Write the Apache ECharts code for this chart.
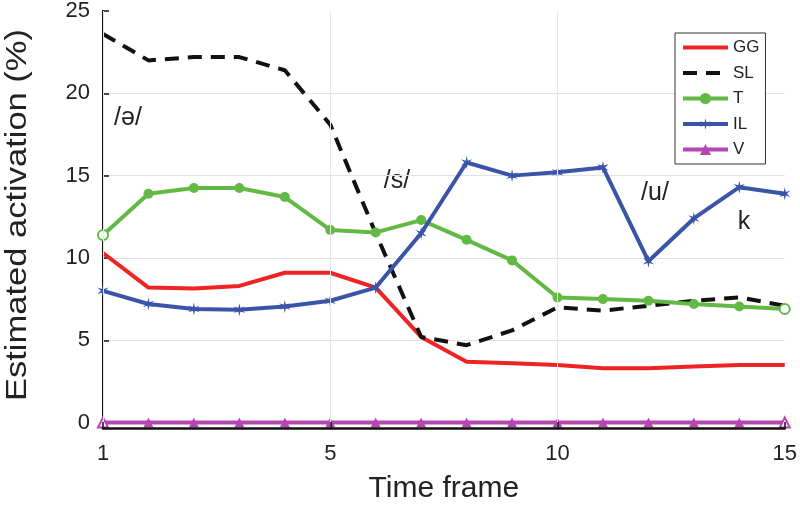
<!DOCTYPE html>
<html>
<head>
<meta charset="utf-8">
<script src="https://cdn.jsdelivr.net/npm/echarts@6/dist/echarts.min.js"></script>
<style>
html, body { margin: 0; padding: 0; background: #fff; }
#chart { width: 800px; height: 513px; }
</style>
</head>
<body>
<div id="chart"></div>
<script>
// time frames (axis position), first tick is labelled "1"
var frames = [0, 1, 2, 3, 4, 5, 6, 7, 8, 9, 10, 11, 12, 13, 14, 15];
var xTickValues = [0, 5, 10, 15];
var xTickLabels = ['1', '5', '10', '15'];

// estimated activation (%)
var ggData = [10.3, 8.2, 8.15, 8.3, 9.1, 9.1, 8.2, 5.2, 3.7, 3.6, 3.5, 3.3, 3.3, 3.4, 3.5, 3.5];
var slData = [23.6, 22.0, 22.2, 22.2, 21.4, 18.1, 11.5, 5.2, 4.7, 5.6, 7.0, 6.8, 7.1, 7.4, 7.6, 7.1];
var tData  = [11.4, 13.9, 14.25, 14.25, 13.7, 11.7, 11.55, 12.3, 11.1, 9.85, 7.6, 7.5, 7.4, 7.2, 7.05, 6.9];
var ilData = [8.0, 7.2, 6.9, 6.85, 7.05, 7.4, 8.2, 11.5, 15.8, 15.0, 15.2, 15.5, 9.8, 12.4, 14.3, 13.9];
var vData  = [0, 0, 0, 0, 0, 0, 0, 0, 0, 0, 0, 0, 0, 0, 0, 0];

var FONT = '"Liberation Sans", Arial, Helvetica, sans-serif';
// 6 point star used as the IL marker
var starPath = 'path://M0,-5L0.8,-1.386L4.33,-2.5L1.6,0L4.33,2.5L0.8,1.386L0,5L-0.8,1.386L-4.33,2.5L-1.6,0L-4.33,-2.5L-0.8,-1.386Z';

// pairs [frame, value]; hollow markers at both ends if asked
function points(values, color, hollowEnds) {
    return frames.map(function (f, i) {
        var p = { value: [f, values[i]] };
        if (hollowEnds && (i === 0 || i === frames.length - 1)) {
            p.itemStyle = { color: '#fff', borderColor: color, borderWidth: 2 };
        }
        return p;
    });
}

function lineSeries(name, values, color, extra) {
    return {
        name: name,
        type: 'line',
        data: points(values, color, extra.hollowEnds),
        symbol: extra.symbol || 'none',
        symbolSize: extra.symbolSize || 0,
        symbolKeepAspect: true,
        lineStyle: { color: color, width: 4, type: extra.dash || 'solid' },
        itemStyle: { color: color },
        emphasis: { disabled: true }
    };
}

var myChart = echarts.init(document.getElementById('chart'));
var option = {
    animation: false,
    grid: { left: 103, right: 15, top: 10, bottom: 85 },
    legend: {
        orient: 'vertical',
        left: 675,
        top: 33,
        padding: [6, 6, 6, 6],
        itemWidth: 45,
        itemHeight: 14,
        itemGap: 8.5,
        backgroundColor: '#fff',
        borderColor: '#333',
        borderWidth: 1,
        borderRadius: 0,
        lineStyle: { width: 4 },
        textStyle: { fontFamily: FONT, fontSize: 17, color: '#222' },
        data: [
            { name: 'GG', itemStyle: { opacity: 0 } },
            { name: 'SL', itemStyle: { opacity: 0 } },
            { name: 'T' },
            { name: 'IL' },
            { name: 'V' }
        ]
    },
    xAxis: {
        type: 'value',
        position: 'bottom',
        z: 10,
        min: 0,
        max: 15,
        interval: 5,
        name: 'Time frame',
        nameLocation: 'middle',
        nameGap: 46,
        nameTextStyle: { fontFamily: FONT, fontSize: 30, color: '#222' },
        axisLine: { show: true, onZero: false, lineStyle: { color: '#111', width: 2.5 } },
        axisTick: { show: true, inside: true, length: 6, lineStyle: { color: '#111', width: 1.5 } },
        axisLabel: {
            fontFamily: FONT, fontSize: 22, color: '#222', margin: 15,
            formatter: function (v) {
                var k = xTickValues.indexOf(v);
                return k >= 0 ? xTickLabels[k] : '';
            }
        },
        splitLine: { show: true, showMaxLine: false, lineStyle: { color: '#e6e6e6', width: 1 } }
    },
    yAxis: {
        type: 'value',
        min: -0.33,
        max: 25,
        splitNumber: 5,
        axisLine: { show: true, lineStyle: { color: '#111', width: 2 } },
        axisTick: { show: true, inside: true, length: 6, lineStyle: { color: '#111', width: 1.5 } },
        axisLabel: {
            fontFamily: FONT, fontSize: 22, color: '#222', margin: 13,
            formatter: function (v) {
                return Math.abs(v % 5) < 1e-6 ? String(v) : '';
            }
        },
        splitLine: { show: true, showMaxLine: false, lineStyle: { color: '#e2e2e2', width: 1 } }
    },
    graphic: [
        {
            type: 'text', x: 18, y: 215, rotation: Math.PI / 2, scaleX: 1.19,
            style: { text: 'Estimated activation (%)', font: '29px ' + FONT, fill: '#222', align: 'center', verticalAlign: 'middle' }
        },
        { type: 'text', x: 128, y: 118, style: { text: '/ə/', font: '25px ' + FONT, fill: '#222', align: 'center', verticalAlign: 'middle' } },
        { type: 'text', x: 397, y: 181, style: { text: '/s/', font: '25px ' + FONT, fill: '#222', align: 'center', verticalAlign: 'middle' } },
        { type: 'text', x: 655, y: 193, style: { text: '/u/', font: '25px ' + FONT, fill: '#222', align: 'center', verticalAlign: 'middle' } },
        { type: 'text', x: 744, y: 222, style: { text: 'k', font: '25px ' + FONT, fill: '#222', align: 'center', verticalAlign: 'middle' } }
    ],
    series: [
        lineSeries('GG', ggData, '#ee2424', {}),
        lineSeries('SL', slData, '#111111', { dash: [14, 9] }),
        lineSeries('T', tData, '#63b946', { symbol: 'circle', symbolSize: 10, hollowEnds: true }),
        lineSeries('IL', ilData, '#3a55a8', { symbol: starPath, symbolSize: 13 }),
        lineSeries('V', vData, '#b546b2', { symbol: 'triangle', symbolSize: 10, hollowEnds: true })
    ]
};
myChart.setOption(option);
</script>
</body>
</html>
